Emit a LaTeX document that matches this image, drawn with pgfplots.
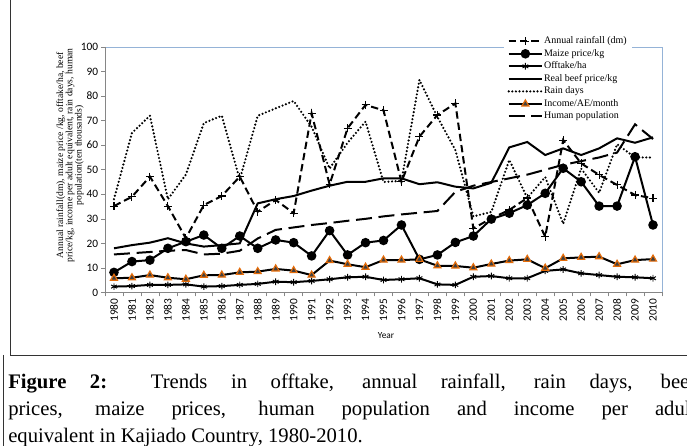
\documentclass[border=0pt]{standalone}
\usepackage{fontspec}
\setmainfont{Liberation Serif}
\newfontfamily\carlito{Carlito}
\usepackage{pgfplots}
\pgfplotsset{compat=1.18}
\usepackage{pgfplotstable}
\definecolor{frameblue}{RGB}{149,179,215}
\definecolor{axgray}{RGB}{134,134,134}
\definecolor{incorange}{RGB}{228,108,10}
\pgfplotstableread{
i rain maize off beef rdays inc pop
0 35.2 8.2 2.4 18.0 38 5.8 15.5
1 39.0 12.6 2.6 19.3 65 6.0 16.0
2 47.2 13.2 3.1 20.3 72 7.1 16.5
3 35.2 18.0 3.1 22.1 38 6.0 17.0
4 22.1 20.7 3.3 20.0 48 5.4 17.3
5 35.6 23.4 2.4 18.7 69 7.0 15.5
6 39.3 18.0 2.6 19.3 72 7.1 15.8
7 47.2 23.0 3.1 20.0 46 8.2 17.0
8 32.9 18.0 3.5 36.3 72 8.5 22.0
9 37.7 21.4 4.4 38.0 75 9.6 25.5
10 32.3 20.3 4.2 39.3 78 8.9 26.5
11 73.0 14.9 4.7 41.5 67.5 7.1 27.5
12 44.0 25.2 5.4 43.5 50.5 13.0 28.3
13 66.9 15.3 6.2 45.1 61 11.5 29.2
14 76.4 20.3 6.4 45.1 69.6 10.3 30.0
15 74.2 21.2 5.1 46.5 45 13.2 31.0
16 45.1 27.5 5.4 46.5 45.5 13.2 31.8
17 63.5 13.5 5.8 44.1 86.6 13.5 32.5
18 72.3 15.3 3.3 44.9 71.5 10.9 33.2
19 77.0 20.4 3.1 43.1 58 10.8 41.0
20 26.1 23.0 6.4 42.4 31 10.1 43.5
21 30.2 29.9 6.7 44.7 32.8 11.6 45.0
22 33.6 32.3 5.8 59.1 54 13.0 46.5
23 38.5 35.6 5.8 61.3 38.5 13.5 48.0
24 22.7 40.4 8.8 56.0 47 9.9 50.0
25 62.1 50.6 9.4 58.7 28 13.9 52.0
26 52.6 45.1 7.8 56.0 50.5 14.3 53.5
27 47.9 35.2 7.1 58.7 40.6 14.6 55.0
28 43.8 35.2 6.4 62.8 60.4 11.5 57.0
29 39.7 55.3 6.2 61.0 55 13.2 68.5
30 38.4 27.5 5.8 63.2 55 13.6 62.5
}\data
\begin{document}
\begin{tikzpicture}
\useasboundingbox (0,0) rectangle (515.25pt,334.5pt);
\clip (0,0) rectangle (515.25pt,334.5pt);
\fill[white] (0,0) rectangle (515.25pt,334.5pt);
% frames
\draw[black!80, line width=0.6pt] (7.5pt,334.5pt) -- (7.5pt,68.25pt) -- (520pt,68.25pt);
\draw[black!80, line width=0.6pt] (2.25pt,68.25pt) -- (2.25pt,0pt);
\begin{axis}[
  at={(78.75pt,115.125pt)}, anchor=south west,
  scale only axis, width=417.75pt, height=184.125pt,
  xmin=-0.5, xmax=30.5, ymin=0, ymax=100,
  axis line style={draw=none},
  xtick={0,...,30},
  xticklabels={1980,1981,1982,1983,1984,1985,1986,1987,1988,1989,1990,1991,1992,1993,1994,1995,1996,1997,1998,1999,2000,2001,2002,2003,2004,2005,2006,2007,2008,2009,2010},
  major x tick style={draw=none},
  minor xtick={-0.5,0.5,...,30.5},
  minor x tick style={draw=axgray, line width=0.5pt},
  minor tick length=3pt,
  ytick={0,10,...,100},
  major y tick style={draw=axgray, line width=0.5pt},
  major tick length=3pt,
  tick align=outside,
  xtick pos=bottom, ytick pos=left,
  x tick label style={rotate=90, anchor=east, font=\carlito\fontsize{8.5}{9}\selectfont, inner sep=1.5pt},
  y tick label style={font=\carlito\fontsize{8.5}{9}\selectfont, inner sep=2pt},
  /pgf/number format/assume math mode=true,
  legend style={at={(0.715,1.057)}, anchor=north west, draw=none, fill=white,
    font=\fontsize{7.5}{8}\selectfont, row sep=1.4pt,
    nodes={inner sep=0.6pt, text height=5.2pt, text depth=1.6pt}},
  legend cell align=left,
  legend image code/.code={\draw[mark repeat=2,mark phase=2] plot coordinates {(0pt,0pt) (12.5pt,0pt) (25pt,0pt)};},
  clip=false,
]
\draw[frameblue, line width=0.6pt] (rel axis cs:0,1) -- (rel axis cs:1,1) -- (rel axis cs:1,0);
\draw[axgray, line width=0.6pt] (rel axis cs:0,1) -- (rel axis cs:0,0) -- (rel axis cs:1,0);
\addplot[black, line width=1.5pt, dash pattern=on 5.5pt off 3pt, mark=+, mark size=3pt, mark options={solid, line width=0.8pt}] table[x=i,y=rain] {\data};
\addlegendentry{Annual rainfall (dm)}
\addplot[black, line width=1.5pt, mark=*, mark size=2.8pt] table[x=i,y=maize] {\data};
\addlegendentry{Maize price/kg}
\addplot[black, line width=1.5pt, mark=asterisk, mark size=2.5pt, mark options={line width=0.7pt}] table[x=i,y=off] {\data};
\addlegendentry{Offtake/ha}
\addplot[black, line width=1.5pt] table[x=i,y=beef] {\data};
\addlegendentry{Real beef price/kg}
\addplot[black, line width=1.8pt, line cap=round, dash pattern=on 0pt off 2.7pt] table[x=i,y=rdays] {\data};
\addlegendentry{Rain days}
\addplot[black, line width=1.5pt, mark=triangle*, mark size=3pt, mark options={fill=black!75, draw=incorange, line width=0.9pt}] table[x=i,y=inc] {\data};
\addlegendentry{Income/AE/month}
\addplot[black, line width=1.5pt, dash pattern=on 12pt off 5pt] table[x=i,y=pop] {\data};
\addlegendentry{Human population}
\end{axis}
% y label
\node[rotate=90, align=center, font=\fontsize{7.2}{6.9}\selectfont, inner sep=0pt] at (52.5pt,218pt)
 {Annual rainfall(dm), maize price /kg, offtake/ha, beef\\price/kg, income per adult equivalent, rain days, human\\population(ten thousands)};
\node[font=\carlito\fontsize{7}{8}\selectfont, inner sep=0pt] at (289.5pt,82.5pt) {Year};
% caption
\node[anchor=north west, text width=516pt, align=justify, inner sep=0pt, font=\fontsize{15.5}{20.3}\selectfont] at (6pt,54pt)
 {\textbf{Figure 2:} Trends in offtake, annual rainfall, rain days, beef\linebreak prices, maize prices, human population and income per adult\linebreak equivalent in Kajiado Country, 1980-2010.};
\end{tikzpicture}
\end{document}
